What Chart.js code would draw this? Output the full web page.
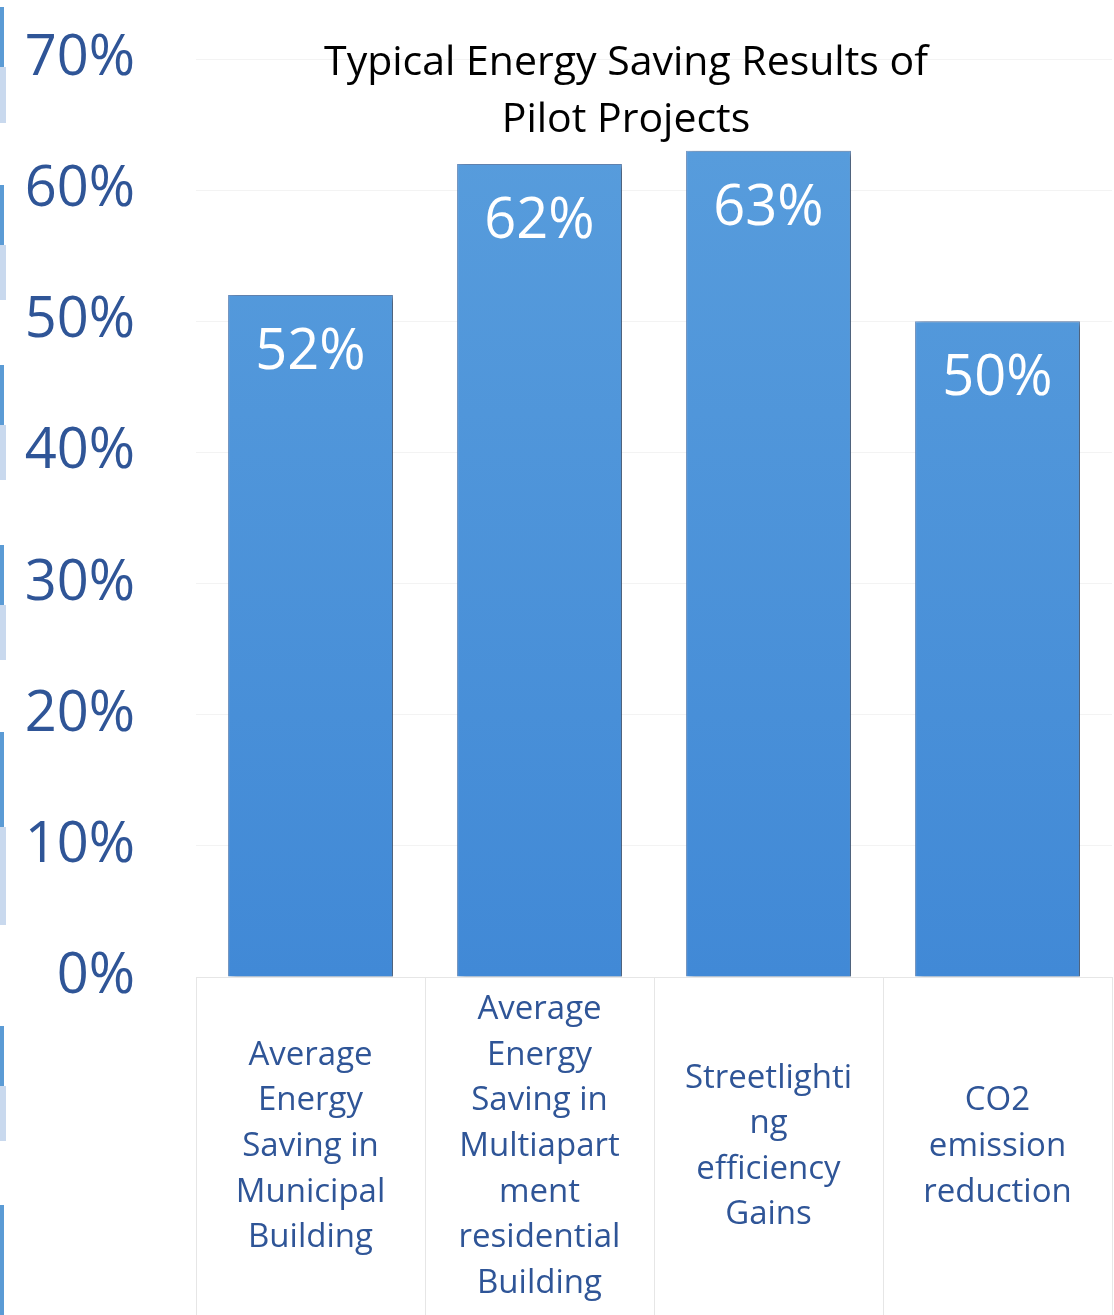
<!DOCTYPE html>
<html>
<head>
<meta charset="utf-8">
<script src="https://cdn.jsdelivr.net/npm/chart.js@4"></script>
<style>
  html, body { margin: 0; padding: 0; background: #fff; }
  #wrap { position: relative; width: 1114px; height: 1315px; }
  .strip { position: absolute; left: 0; width: 4px; background: #5b9bd5; }
  .strip.light { width: 6px; background: #c9d9ee; }
</style>
</head>
<body>
<div id="wrap">
  <div class="strip" style="top:7px;height:60px"></div>
  <div class="strip light" style="top:67px;height:56px"></div>
  <div class="strip" style="top:185px;height:60px"></div>
  <div class="strip light" style="top:245px;height:55px"></div>
  <div class="strip" style="top:365px;height:60px"></div>
  <div class="strip light" style="top:425px;height:55px"></div>
  <div class="strip" style="top:545px;height:60px"></div>
  <div class="strip light" style="top:605px;height:55px"></div>
  <div class="strip" style="top:732px;height:95px"></div>
  <div class="strip light" style="top:827px;height:98px"></div>
  <div class="strip" style="top:1026px;height:60px"></div>
  <div class="strip light" style="top:1086px;height:55px"></div>
  <div class="strip" style="top:1205px;height:110px"></div>
  <canvas id="chart1" width="1114" height="1315"></canvas>
</div>
<script>
const categories = [
    ["Average", "Energy", "Saving in", "Municipal", "Building"],
    ["Average", "Energy", "Saving in", "Multiapart", "ment", "residential", "Building"],
    ["Streetlighti", "ng", "efficiency", "Gains"],
    ["CO2", "emission", "reduction"]
];
const savings = [52, 62, 63, 50];
const titleLines = ["Typical Energy Saving Results of", "Pilot Projects"];
const yTicks = [0, 10, 20, 30, 40, 50, 60, 70];

const labelBlue = '#2f5597';
const fontFam = '"Open Sans", sans-serif';

// shadow behind the bars, like the slide
const barShadow = {
    id: 'barShadow',
    beforeDatasetsDraw(chart) {
        const ctx = chart.ctx;
        ctx.save();
        ctx.shadowColor = 'rgba(0,0,0,0.45)';
        ctx.shadowBlur = 6;
        ctx.shadowOffsetX = 4;
        ctx.shadowOffsetY = 2;
    },
    afterDatasetsDraw(chart) {
        chart.ctx.restore();
    }
};

// value labels, title and the box lines under the bars
const extras = {
    id: 'extras',
    afterDraw(chart) {
        const ctx = chart.ctx;
        const area = chart.chartArea;
        const x = chart.scales.x;
        ctx.save();

        // value labels inside bars
        ctx.fillStyle = '#fff';
        ctx.font = '56px ' + fontFam;
        ctx.textAlign = 'center';
        ctx.textBaseline = 'middle';
        chart.getDatasetMeta(0).data.forEach((bar, i) => {
            ctx.fillText(savings[i] + '%', bar.x, bar.y + 58);
        });

        // title
        ctx.fillStyle = '#000';
        ctx.font = '41px ' + fontFam;
        const cx = (area.left + area.right) / 2 - 28;
        titleLines.forEach((t, i) => {
            ctx.fillText(t, cx, area.top + 4 + i * 57);
        });

        // category box lines
        ctx.strokeStyle = '#e6e6e6';
        ctx.lineWidth = 1;
        const half = (x.getPixelForValue(1) - x.getPixelForValue(0)) / 2;
        ctx.beginPath();
        ctx.moveTo(area.left, area.bottom + 0.5);
        ctx.lineTo(area.right, area.bottom + 0.5);
        for (let i = 0; i <= categories.length; i++) {
            const px = Math.round(x.getPixelForValue(i) - half) + 0.5;
            ctx.moveTo(px, area.bottom);
            ctx.lineTo(px, chart.height);
        }
        ctx.stroke();
        ctx.restore();
    }
};

const ctx1 = document.getElementById('chart1').getContext('2d');
let grad = ctx1.createLinearGradient(0, 150, 0, 977);
grad.addColorStop(0, '#579cdc');
grad.addColorStop(1, '#4189d6');

let chart1 = new Chart(ctx1, {
    type: 'bar',
    data: {
        labels: categories,
        datasets: [{
            label: 'Energy saving',
            data: savings,
            backgroundColor: grad,
            borderColor: '#6a8fbf',
            borderWidth: 1,
            barPercentage: 0.72,
            categoryPercentage: 1
        }]
    },
    plugins: [barShadow, extras],
    options: {
        responsive: false,
        animation: false,
        layout: {
            padding: { left: 0, right: 2, top: 59, bottom: 0 }
        },
        plugins: {
            legend: { display: false },
            tooltip: { enabled: false }
        },
        scales: {
            x: {
                grid: { display: false, drawTicks: false },
                border: { display: false },
                afterFit(scale) { scale.height = 338; },
                ticks: {
                    color: labelBlue,
                    font: { family: fontFam, size: 33, lineHeight: 1.38 },
                    padding: 33,
                    crossAlign: 'center',
                    maxRotation: 0,
                    autoSkip: false
                }
            },
            y: {
                min: 0,
                max: 70,
                afterBuildTicks(axis) {
                    axis.ticks = yTicks.map(v => ({ value: v }));
                },
                afterFit(scale) {
                    scale.width = 196;
                    scale.paddingTop = 0;
                    scale.paddingBottom = 0;
                },
                grid: { color: '#f3f3f3', drawTicks: false },
                border: { display: false },
                ticks: {
                    color: labelBlue,
                    font: { family: fontFam, size: 56 },
                    padding: 61,
                    callback: v => v + '%'
                }
            }
        }
    }
});
</script>
</body>
</html>
